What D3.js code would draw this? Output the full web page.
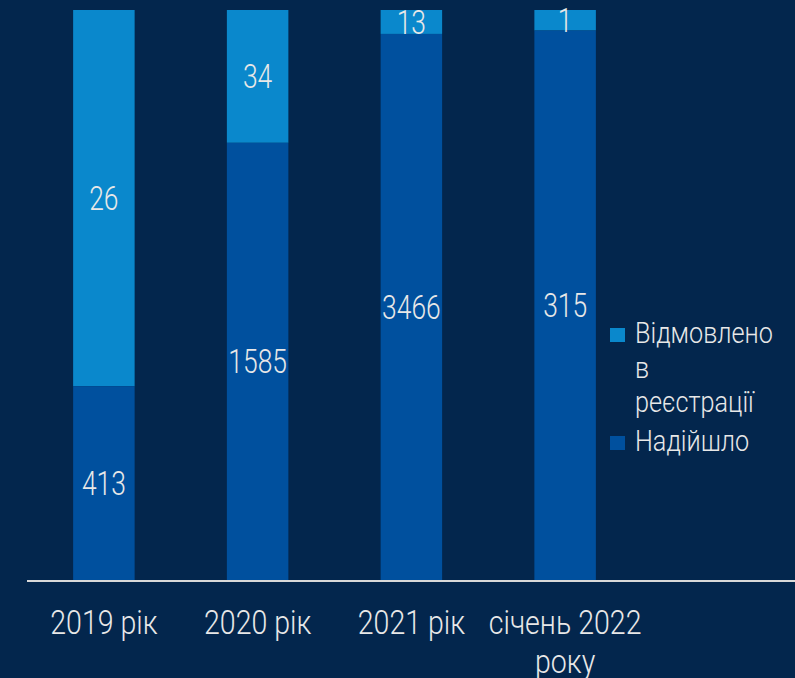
<html>
<head>
<script src="https://d3js.org/d3.v7.min.js"></script>
<style>
  body { margin:0; background:#03264d; }
  .lbl { font-family: Roboto, sans-serif; font-weight:300; fill:#e8e8e8; }
</style>
</head>
<body>
<svg id="chart" width="795" height="678"></svg>
<script>
// categories and values (labels as printed)
const years = ["2019 рік", "2020 рік", "2021 рік", "січень 2022|року"];
const received = [413, 1585, 3466, 315];   // Надійшло
const refused = [26, 34, 13, 1];           // Відмовлено в реєстрації
// share of bar height taken by "Надійшло", as drawn in the picture
const receivedShare = [0.34, 0.767, 0.958, 0.964];
const legendNames = ["Відмовлено|в|реєстрації", "Надійшло"];

const colTop = "#0a88cc", colBottom = "#00509e";
const svg = d3.select("#chart");
const margin = {top: 10, bottom: 98, left: 27};
const plotBottom = 678 - margin.bottom;

const x = d3.scaleBand().domain(years).range([margin.left, 642]).paddingInner(0.6).paddingOuter(0.3);
const y = d3.scaleLinear().domain([0, 1]).range([plotBottom, margin.top]);

// narrow the text like the condensed face in the source
function squeezed(g, txt, cx, cy, size, sx, anchor) {
  return g.append("text").attr("class","lbl")
    .attr("transform", `translate(${cx},${cy}) scale(${sx},1)`)
    .attr("text-anchor", anchor || "middle")
    .attr("font-size", size)
    .text(txt);
}

const bars = svg.append("g");
years.forEach((yr, i) => {
  const x0 = x(yr), w = x.bandwidth();
  const b = y(receivedShare[i]);
  bars.append("rect").attr("x", x0).attr("y", y(1)).attr("width", w).attr("height", b - y(1))
    .attr("fill", colTop);
  bars.append("rect").attr("x", x0).attr("y", b).attr("width", w).attr("height", y(0) - b)
    .attr("fill", colBottom);
  squeezed(bars, received[i], x0 + w/2, (b + y(0))/2 + 12, 33, 0.8);
  squeezed(bars, refused[i], x0 + w/2, (b + y(1))/2 + 12, 33, 0.8);
});

// axis line
svg.append("line").attr("x1", margin.left).attr("x2", 795)
  .attr("y1", plotBottom + 1).attr("y2", plotBottom + 1)
  .attr("stroke", "#d9d9d9").attr("stroke-width", 2);

// category labels
years.forEach(yr => {
  yr.split("|").forEach((line, j) => {
    squeezed(svg, line, x(yr) + x.bandwidth()/2, 634 + j*39, 34, 0.84);
  });
});

// legend
const legend = svg.append("g");
const legendCols = [colTop, colBottom];
const legendY = [343, 451];
legendNames.forEach((name, i) => {
  legend.append("rect").attr("x", 610).attr("y", legendY[i] - 15).attr("width", 15).attr("height", 14)
    .attr("fill", legendCols[i]);
  name.split("|").forEach((line, j) => {
    squeezed(legend, line, 635, legendY[i] + j*34.5, 29, 0.87, "start");
  });
});
</script>
</body>
</html>
